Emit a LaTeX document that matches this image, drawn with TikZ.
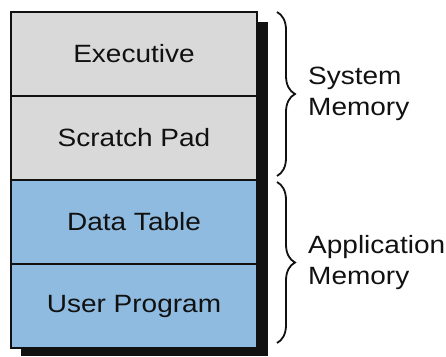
\documentclass[tikz,border=0pt]{standalone}
\usepackage{fontspec}
\setmainfont[FakeStretch=1.12]{Liberation Sans}
\usepackage{tikz}
\usetikzlibrary{positioning,calc,backgrounds,decorations.pathreplacing}
\definecolor{ink}{HTML}{111111}
\definecolor{sysfill}{HTML}{D9D9D9}
\definecolor{appfill}{HTML}{8FBBE0}
\tikzset{
  blk/.style={draw=ink,line width=2pt,minimum width=246pt,minimum height=84pt,
    outer sep=0pt,inner sep=0pt,font=\fontsize{25}{31}\selectfont,text=ink},
  sysblk/.style={blk,fill=sysfill},
  appblk/.style={blk,fill=appfill},
  memlbl/.style={align=left,anchor=west,inner sep=0pt,font=\fontsize{25}{31}\selectfont,text=ink},
  brc/.style={decorate,decoration={brace,amplitude=18pt,aspect=0.5},line width=1.8pt,color=ink},
  node distance=0pt
}
\begin{document}
\begin{tikzpicture}[x=1pt,y=1pt]
  \useasboundingbox (0,0) rectangle (446,356);
  \node[sysblk] (exec) at (134,302) {Executive};
  \node[sysblk,below=of exec] (scratch) {Scratch Pad};
  \node[appblk,below=of scratch] (datatab) {Data Table};
  \node[appblk,below=of datatab] (userprog) {User Program};
  % drop shadow
  \begin{scope}[on background layer]
    \fill[ink] ([shift={(10pt,-10pt)}]exec.north west) rectangle ([shift={(11pt,-8pt)}]userprog.south east);
  \end{scope}
  % braces
  \coordinate (s1) at ([xshift=20pt]exec.north east);
  \coordinate (s2) at ([xshift=20pt,yshift=4pt]scratch.south east);
  \coordinate (a1) at ([xshift=20pt,yshift=-2pt]datatab.north east);
  \coordinate (a2) at ([xshift=20pt,yshift=5pt]userprog.south east);
  \draw[brc] (s1) -- (s2);
  \draw[brc] (a1) -- (a2);
  \node[memlbl] (sysmem) at ([xshift=31pt]$(s1)!0.5!(s2)$) {System\\Memory};
  \node[memlbl] (appmem) at ([xshift=31pt]$(a1)!0.5!(a2)$) {Application\\Memory};
\end{tikzpicture}
\end{document}
